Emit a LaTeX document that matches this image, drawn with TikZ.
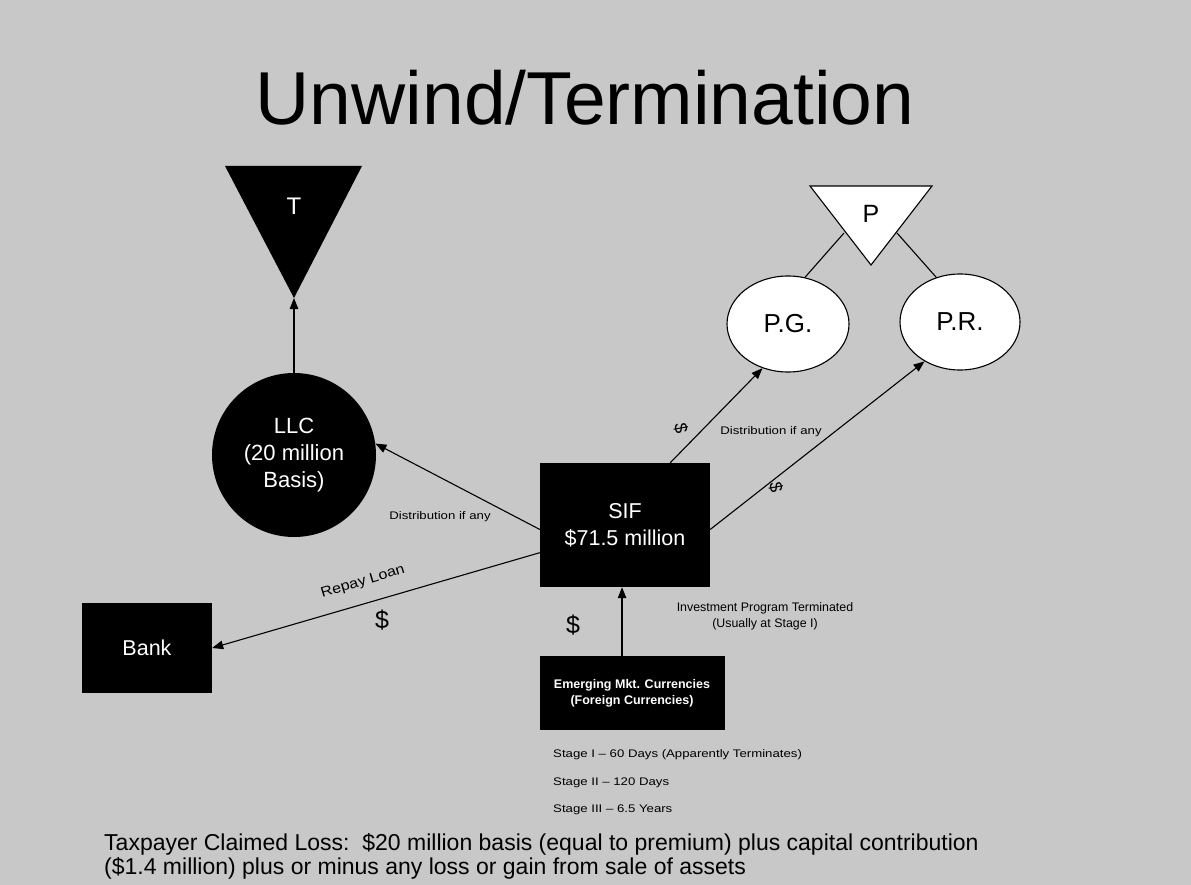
\documentclass[tikz,border=0pt]{standalone}
\usepackage{fontspec}
\setmainfont{Liberation Sans}
\usetikzlibrary{arrows.meta,shapes.geometric}
\definecolor{bg}{RGB}{200,200,200}
\newcommand{\fs}[1]{\fontsize{#1}{#1}\selectfont}
\newcommand{\wide}[1]{\scalebox{1.2}[1]{#1}}
\begin{document}
\begin{tikzpicture}[x=1pt,y=-1pt,
  arr/.style={draw=black, line width=1.1pt, -{Triangle[length=11pt,width=8.5pt]}},
  ln/.style={draw=black, line width=1.1pt},
  blackbox/.style={fill=black, text=white, inner sep=0pt, align=center},
  whiteell/.style={ellipse, draw=black, line width=1.1pt, fill=white, inner sep=0pt, font=\fs{26}},
  small/.style={font=\fs{11}, inner sep=0pt},
  dollar/.style={font=\fs{25}, inner sep=0pt},
  rdollar/.style={font=\fs{18}, inner sep=0pt, rotate=-80}]
\fill[bg] (0,0) rectangle (1191,885);
\useasboundingbox (0,0) rectangle (1191,885);

% title
\node[font=\fs{75}, inner sep=0pt] (title) at (585,98) {Unwind/Termination};

% T triangle
\fill[black] (225,166) -- (362,166) -- (294,298) -- cycle;
\coordinate (Tapex) at (294,298);
\node[text=white, font=\fs{24}, inner sep=0pt] (T) at (294,206) {T};

% LLC
\node[blackbox, circle, minimum size=164pt, font=\fontsize{22}{27}\selectfont] (LLC) at (294,455) {LLC\\(20 million\\Basis)};
\draw[arr] (LLC.north) -- (Tapex);

% P triangle
\filldraw[fill=white, draw=black, line width=1.1pt] (810,186) -- (932,186) -- (871,265) -- cycle;
\node[font=\fs{25}, inner sep=0pt] (P) at (871,214) {P};
\coordinate (PL) at (844,233);
\coordinate (PR0) at (897,233);

\node[whiteell, minimum width=122pt, minimum height=96pt] (PG) at (788,324) {P.G.};
\node[whiteell, minimum width=120pt, minimum height=96pt] (PR) at (960,322) {P.R.};
\draw[ln] (PL) -- (PG.70);
\draw[ln] (PR0) -- (PR.118);

% SIF
\node[blackbox, minimum width=170pt, minimum height=124pt, font=\fontsize{21.5}{27}\selectfont] (SIF) at (625,525) {SIF\\\$71.5 million};

% Bank
\node[blackbox, minimum width=130pt, minimum height=90pt, font=\fs{21.5}] (Bank) at (147,648) {Bank};

% Emerging
\node[blackbox, minimum width=185pt, minimum height=74pt, font=\bfseries\fontsize{12.5}{16}\selectfont] (EMC) at (632,693) {Emerging Mkt. Currencies\\(Foreign Currencies)};

% connectors
\draw[arr] (SIF.183) -- (LLC.8);
\draw[arr] (SIF.54) -- (PG.240);
\draw[arr] (SIF.357) -- (PR.228);
\draw[arr] (SIF.198) -- (Bank.east);
\draw[arr] (EMC.105) -- (EMC.105 |- SIF.south);

% labels
\node[small] (d1) at (440,517) {\wide{Distribution if any}};
\node[small] (d2) at (771,432) {\wide{Distribution if any}};
\node[rdollar] (s1) at (681,428) {\$};
\node[rdollar] (s2) at (776,487) {\$};
\node[font=\fs{14}, inner sep=0pt, rotate=17] (repay) at (363,582) {\scalebox{1.15}[1]{Repay Loan}};
\node[dollar] (s3) at (382,620) {\$};
\node[dollar] (s4) at (573,625) {\$};
\node[font=\fontsize{12.4}{16}\selectfont, inner sep=0pt, align=center] (inv) at (765,616) {Investment Program Terminated\\(Usually at Stage I)};
\node[font=\fs{11}, inner sep=0pt, anchor=base west] (st1) at (553,757) {\wide{Stage I -- 60 Days (Apparently Terminates)}};
\node[font=\fs{11}, inner sep=0pt, anchor=base west] (st2) at (553,785) {\wide{Stage II -- 120 Days}};
\node[font=\fs{11}, inner sep=0pt, anchor=base west] (st3) at (553,812) {\wide{Stage III -- 6.5 Years}};

\node[font=\fs{23}, inner sep=0pt, anchor=base west] (loss1) at (104,850) {Taxpayer Claimed Loss:\ \ \$20 million basis (equal to premium) plus capital contribution};
\node[font=\fs{23}, inner sep=0pt, anchor=base west] (loss2) at (104,874) {(\$1.4 million) plus or minus any loss or gain from sale of assets};
\end{tikzpicture}
\end{document}
